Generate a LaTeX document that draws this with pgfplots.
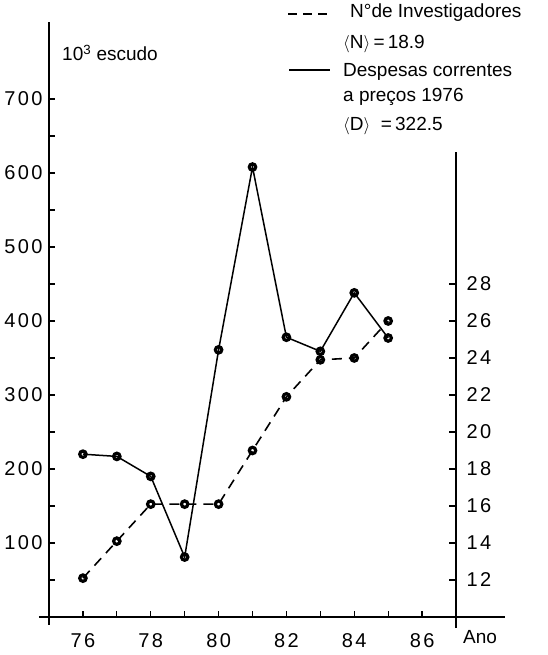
\documentclass[border=0pt]{standalone}
\usepackage{pgfplots}
\pgfplotsset{compat=1.18}
\usepackage{fontspec}
\setmainfont{Liberation Sans}
\newfontfamily\tickfont[LetterSpace=12]{Liberation Sans}
\begin{document}
\begin{tikzpicture}[x=1pt,y=1pt,font=\fontsize{19}{22}\selectfont]
\useasboundingbox (0,0) rectangle (547,655);
\begin{axis}[at={(49pt,38pt)}, anchor=south west, scale only axis, width=407pt, height=595pt,
 xmin=75,xmax=87,ymin=0,ymax=804,
 axis x line*=bottom, axis y line*=left,
 axis line style={line width=1.2pt,-},
 tick align=inside, major tick length=6pt, minor tick length=6pt,
 every tick/.style={line width=1.2pt, black},
 xtick={76,...,86}, xticklabels={76,,78,,80,,82,,84,,86},
 ytick={100,200,...,700}, minor ytick={50,150,...,650},
 /pgf/number format/assume math mode=true,
 ticklabel style={font=\tickfont\fontsize{20}{22}\selectfont},
 xticklabel style={yshift=-13pt},
 yticklabel style={xshift=-3pt},
 clip=false]
\addplot[black, line width=1.5pt, mark=o, mark size=3.2pt, mark options={line width=3.2pt}] coordinates {(76,220)(77,217)(78,190)(79,81)(80,361)(81,608)(82,378)(83,359)(84,438)(85,377)};
\draw[line width=1.2pt] (axis cs:74.7,0) -- (axis cs:88.44,0);
\draw[line width=1.2pt] (axis cs:75,0) -- (axis cs:75,-11);
\end{axis}
\begin{axis}[at={(49pt,38pt)}, anchor=south west, scale only axis, width=407pt, height=595pt,
 xmin=75,xmax=87,ymin=10,ymax=42.16,
 axis x line=none, axis y line*=right,
 axis line style={draw=none},
 tick align=inside, major tick length=7pt,
 every tick/.style={line width=1.2pt, black},
 ytick={12,14,...,28},
 /pgf/number format/assume math mode=true,
 ticklabel style={font=\tickfont\fontsize{20}{22}\selectfont},
 yticklabel style={xshift=7pt},
 clip=false]
\addplot[black, line width=1.6pt, dash pattern=on 10pt off 7pt, mark=o, mark size=3.2pt, mark options={solid,line width=3.2pt}] coordinates {(76,12.1)(77,14.1)(78,16.1)(79,16.1)(80,16.1)(81,19)(82,21.9)(83,23.9)(84,24)(85,26)};
\draw[line width=1.2pt] (axis cs:87,9.4) -- (axis cs:87,35.14);
\end{axis}
\draw[line width=1.6pt, dash pattern=on 9pt off 6pt] (288,641) -- (330,641);
\node[anchor=west, inner sep=0pt] at (350,642) {N°de Investigadores};
\node[anchor=west, inner sep=0pt] at (343,611) {$\langle$N$\rangle$\,=\,18.9};
\draw[line width=1.5pt] (289,585) -- (330,585);
\node[anchor=west, inner sep=0pt] at (343,583) {Despesas correntes};
\node[anchor=west, inner sep=0pt] at (343,558) {a preços 1976};
\node[anchor=west, inner sep=0pt] at (343,529) {$\langle$D$\rangle$\ \ =\,322.5};
\node[anchor=west, inner sep=0pt] at (62,602) {10$^{\mathrm{3}}$ escudo};
\node[anchor=west, inner sep=0pt] at (463,18) {Ano};
\end{tikzpicture}
\end{document}
